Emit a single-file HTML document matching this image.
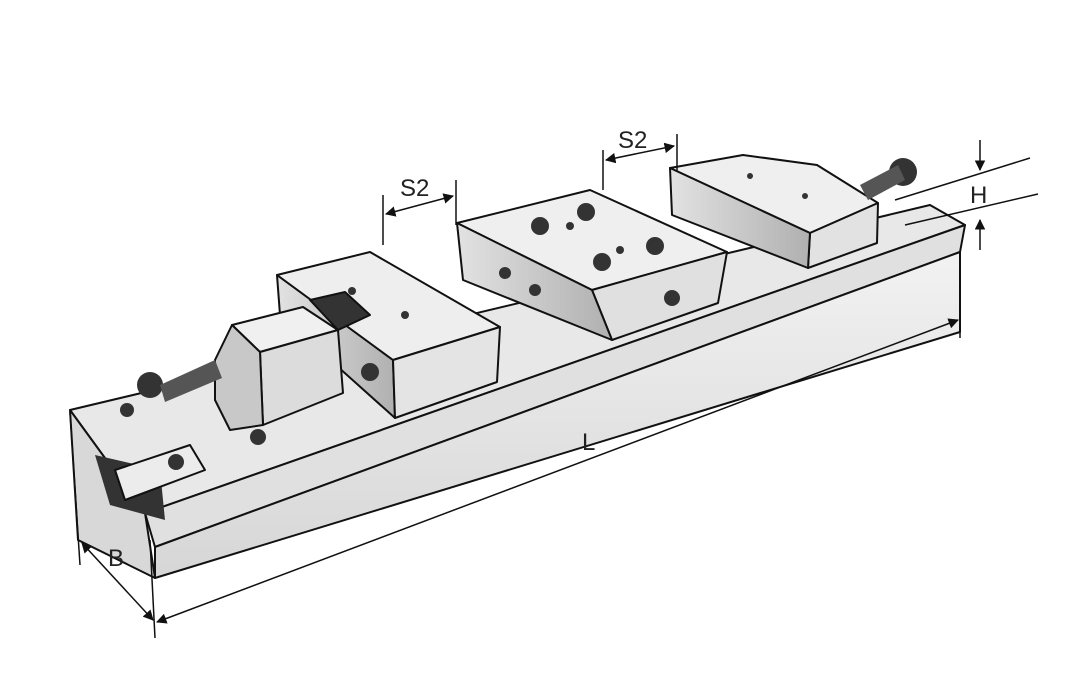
<!DOCTYPE html>
<html><head><meta charset="utf-8"><style>
html,body{margin:0;padding:0;background:#fff;width:1068px;height:685px;overflow:hidden}
svg{display:block}
text{font-family:"Liberation Sans",sans-serif;font-size:24px;fill:#222}
</style></head><body>
<svg width="1068" height="685" viewBox="0 0 1068 685">
<defs>
<linearGradient id="g1" x1="0" y1="0" x2="0" y2="1"><stop offset="0" stop-color="#f2f2f2"/><stop offset="1" stop-color="#d6d6d6"/></linearGradient>
<linearGradient id="g2" x1="0" y1="0" x2="1" y2="0"><stop offset="0" stop-color="#e2e2e2"/><stop offset="1" stop-color="#b0b0b0"/></linearGradient>
<marker id="a" viewBox="0 0 10 10" refX="9" refY="5" markerWidth="7" markerHeight="7" orient="auto-start-reverse"><path d="M0,0L10,5L0,10z" fill="#111"/></marker>
</defs>
<g stroke="#111" stroke-width="2" stroke-linejoin="round">
<!-- base -->
<polygon points="70,410 930,205 965,225 145,513" fill="#e8e8e8"/>
<polygon points="145,513 965,225 960,252 155,547" fill="#e0e0e0"/>
<polygon points="155,547 960,252 960,332 155,578" fill="url(#g1)"/>
<polygon points="70,410 145,513 155,578 78,540" fill="#d8d8d8"/>
<polygon points="95,455 160,470 165,520 110,505" fill="#333" stroke="none"/>
<polygon points="115,470 190,445 205,470 125,500" fill="#ececec"/>
<!-- left body -->
<polygon points="277,275 280,315 395,418 393,360" fill="url(#g2)"/>
<polygon points="277,275 370,252 500,327 393,360" fill="#eeeeee"/>
<polygon points="393,360 500,327 497,382 395,418" fill="#e4e4e4"/>
<!-- left jaw -->
<polygon points="232,325 303,307 338,330 260,352" fill="#f0f0f0"/>
<polygon points="260,352 338,330 343,393 263,425" fill="#dcdcdc"/>
<polygon points="232,325 260,352 263,425 230,430 215,400 215,360" fill="#c8c8c8"/>
<polygon points="310,300 345,292 370,315 338,330" fill="#333"/>
<!-- middle jaw -->
<polygon points="457,223 590,190 727,252 592,290" fill="#efefef"/>
<polygon points="592,290 727,252 718,303 612,340" fill="#e0e0e0"/>
<polygon points="457,223 592,290 612,340 463,280" fill="url(#g2)"/>
<!-- right jaw -->
<polygon points="670,168 743,155 817,165 878,203 810,233" fill="#efefef"/>
<polygon points="810,233 878,203 877,243 808,268" fill="#e2e2e2"/>
<polygon points="670,168 810,233 808,268 672,215" fill="url(#g2)"/>
</g>
<!-- holes, screws -->
<g fill="#333">
<circle cx="127" cy="410" r="7"/><circle cx="176" cy="462" r="8"/><circle cx="258" cy="437" r="8"/>
<circle cx="352" cy="291" r="4"/><circle cx="405" cy="315" r="4"/><circle cx="370" cy="372" r="9"/>
<circle cx="540" cy="226" r="9"/><circle cx="586" cy="212" r="9"/><circle cx="602" cy="262" r="9"/><circle cx="655" cy="246" r="9"/>
<circle cx="570" cy="226" r="4"/><circle cx="620" cy="250" r="4"/>
<circle cx="505" cy="273" r="6"/><circle cx="535" cy="290" r="6"/><circle cx="672" cy="298" r="8"/>
<circle cx="750" cy="176" r="3"/><circle cx="805" cy="196" r="3"/>
<circle cx="150" cy="385" r="13"/>
<polygon points="160,385 215,360 222,378 165,402" fill="#555"/>
<circle cx="903" cy="172" r="14"/>
<polygon points="860,185 898,165 905,180 868,200" fill="#555"/>
</g>
<!-- dimension lines -->
<g stroke="#111" stroke-width="1.5" fill="none">
<line x1="70" y1="412" x2="80" y2="565"/><line x1="150" y1="540" x2="155" y2="638"/>
<line x1="960" y1="252" x2="960" y2="338"/>
<line x1="157" y1="622" x2="958" y2="320" marker-start="url(#a)" marker-end="url(#a)"/>
<line x1="82" y1="543" x2="153" y2="620" marker-start="url(#a)" marker-end="url(#a)"/>
<line x1="383" y1="195" x2="383" y2="245"/><line x1="456" y1="180" x2="456" y2="225"/>
<line x1="386" y1="214" x2="453" y2="196" marker-start="url(#a)" marker-end="url(#a)"/>
<line x1="603" y1="150" x2="603" y2="190"/><line x1="677" y1="134" x2="677" y2="172"/>
<line x1="606" y1="160" x2="674" y2="146" marker-start="url(#a)" marker-end="url(#a)"/>
<line x1="895" y1="200" x2="1030" y2="158"/><line x1="905" y1="225" x2="1038" y2="194"/>
<line x1="980" y1="140" x2="980" y2="170" marker-end="url(#a)"/>
<line x1="980" y1="250" x2="980" y2="220" marker-end="url(#a)"/>
</g>
<text x="582" y="450">L</text>
<text x="108" y="566">B</text>
<text x="400" y="196">S2</text>
<text x="618" y="148">S2</text>
<text x="970" y="203">H</text>
</svg>
</body></html>
